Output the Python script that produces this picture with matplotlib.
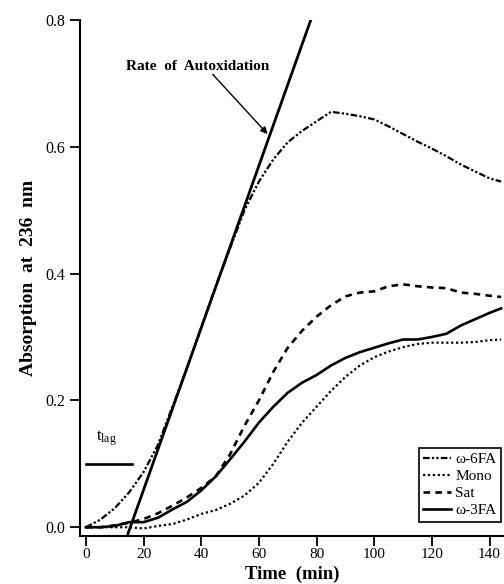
import matplotlib
matplotlib.use("Agg")
import matplotlib.pyplot as plt
import numpy as np

plt.rcParams['font.family'] = ['Liberation Serif', 'DejaVu Serif']
plt.rcParams['mathtext.fontset'] = 'custom'
plt.rcParams['mathtext.rm'] = 'Liberation Serif'

time = [0, 5, 10, 15, 20, 25, 30, 35, 40, 45, 50, 55, 60, 65, 70, 75, 80, 85, 90,
        95, 100, 105, 110, 115, 120, 125, 130, 135, 140, 144]
w6 = [0.0, 0.012, 0.03, 0.055, 0.087, 0.13, 0.19, 0.25, 0.315, 0.38, 0.44, 0.50,
      0.545, 0.58, 0.607, 0.625, 0.64, 0.655, 0.652, 0.648, 0.643, 0.632, 0.62,
      0.608, 0.597, 0.585, 0.572, 0.561, 0.55, 0.545]
mono = [0.0, 0.0, 0.0, 0.0, -0.002, 0.002, 0.005, 0.012, 0.021, 0.027, 0.037, 0.05,
        0.07, 0.1, 0.135, 0.165, 0.19, 0.215, 0.237, 0.255, 0.268, 0.277, 0.284,
        0.289, 0.291, 0.291, 0.291, 0.292, 0.295, 0.296]
sat = [0.0, 0.0, 0.003, 0.007, 0.013, 0.022, 0.034, 0.047, 0.062, 0.08, 0.115, 0.16,
       0.2, 0.245, 0.283, 0.31, 0.332, 0.35, 0.364, 0.37, 0.372, 0.38, 0.383,
       0.38, 0.378, 0.377, 0.37, 0.368, 0.365, 0.363]
w3 = [0.0, 0.0, 0.002, 0.008, 0.008, 0.015, 0.028, 0.04, 0.058, 0.08, 0.107, 0.135,
      0.165, 0.19, 0.212, 0.228, 0.24, 0.255, 0.267, 0.276, 0.283, 0.29, 0.296,
      0.296, 0.3, 0.305, 0.318, 0.328, 0.338, 0.345]

rate_x = [14.6, 78.0]
rate_y = [-0.01, 0.80]
lag_x = [0, 16]
lag_y = [0.1, 0.1]

fig = plt.figure(figsize=(5.04, 5.84), dpi=100)
ax = fig.add_axes([0.159, 0.082, 0.841, 0.884])

ax.plot(time, w6, color='black', lw=1.6, linestyle=(0, (3, 1, 1, 1, 1, 1)), label='ω-6FA')
ax.plot(time, mono, color='black', lw=1.6, linestyle=(0, (1, 1.2)), label='Mono')
ax.plot(time, sat, color='black', lw=1.9, linestyle=(0, (2.5, 2)), label='Sat')
ax.plot(time, w3, color='black', lw=1.9, linestyle='-', label='ω-3FA')
ax.plot(rate_x, rate_y, color='black', lw=2.0)
ax.plot(lag_x, lag_y, color='black', lw=1.9)

ax.text(3.5, 0.14, r'$\mathregular{t_{lag}}$', fontsize=12, ha='left', va='center')
ax.text(13.9, 0.727, 'Rate  of  Autoxidation', fontsize=11, fontweight='bold',
        ha='left', va='center')
ax.annotate('', xy=(63, 0.62), xytext=(44, 0.714),
            arrowprops=dict(arrowstyle='-|>', color='black', lw=1.0,
                            mutation_scale=10, shrinkA=0, shrinkB=0))

ax.set_xlim(-2, 145)
ax.set_ylim(-0.014, 0.8)
ax.set_xticks([0, 20, 40, 60, 80, 100, 120, 140])
ax.set_yticks([0.0, 0.2, 0.4, 0.6, 0.8])
ax.set_yticklabels(['0.0', '0.2', '0.4', '0.6', '0.8'])
for s in ['top', 'right']:
    ax.spines[s].set_visible(False)
ax.spines['left'].set_linewidth(1.5)
ax.spines['bottom'].set_linewidth(1.5)
ax.tick_params(axis='both', direction='out', length=7, width=1.3, labelsize=11.5)
ax.tick_params(axis='x', pad=1.5, labelsize=11)

ax.set_xlabel('Time  (min)', fontsize=13.5, fontweight='bold')
ax.xaxis.set_label_coords(0.5, -0.057, transform=ax.transAxes)
ax.xaxis.label.set_verticalalignment('top')
ax.set_ylabel('Absorption  at  236  nm', fontsize=14, fontweight='bold', labelpad=6)

leg = ax.legend(loc='lower right', bbox_to_anchor=(1.0, 0.022), fontsize=11,
                handlelength=1.8, handletextpad=0.3, borderpad=0.3,
                labelspacing=0.22, fancybox=False, framealpha=1, edgecolor='black',
                borderaxespad=0.2)
leg.get_frame().set_linewidth(1.2)

fig.savefig('out.png', dpi=100)
